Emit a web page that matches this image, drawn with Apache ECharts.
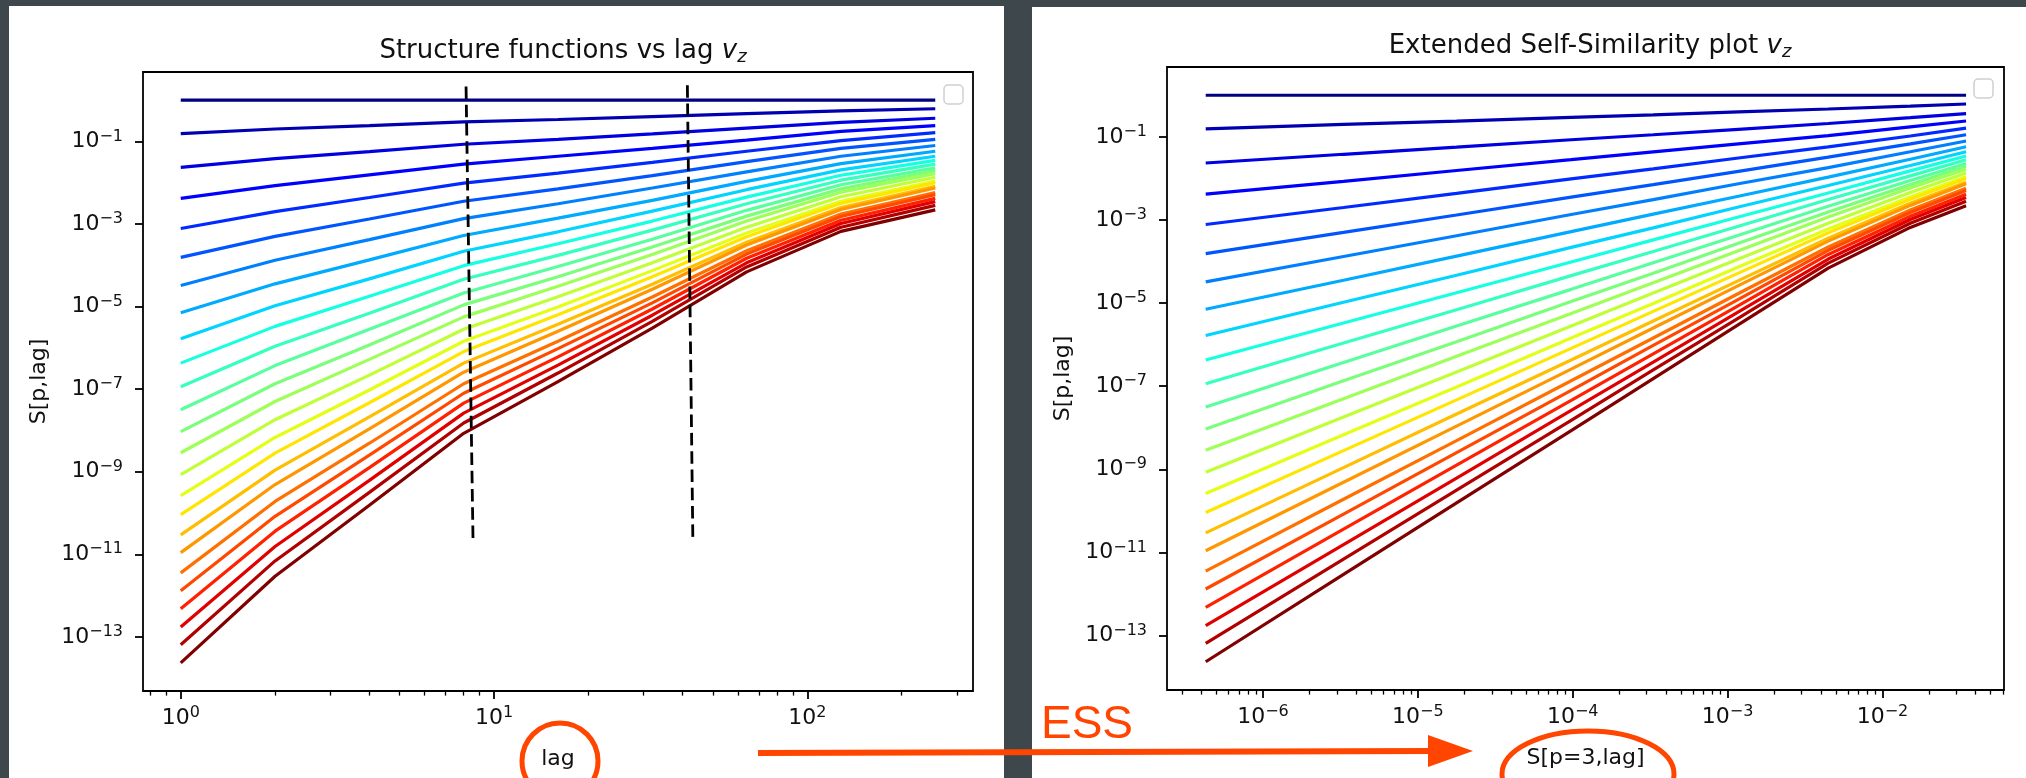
<!DOCTYPE html>
<html><head><meta charset="utf-8">
<script src="https://cdn.jsdelivr.net/npm/echarts@6/dist/echarts.min.js"></script>
<style>html,body{margin:0;padding:0;background:#3e474c;}#c{width:2026px;height:778px;}</style>
</head><body><div id="c"></div>
<script>
// lag values (x of the left plot)
const lags = [1, 2, 4, 8, 16, 32, 64, 128, 256];
// log10 of S[p, lag] for p = k/3, k = 0..24
const S_p00 = [0, 0, 0, 0, 0, 0, 0, 0, 0];
const S_p01 = [-0.81, -0.70, -0.62, -0.53, -0.47, -0.40, -0.33, -0.26, -0.21];
const S_p02 = [-1.63, -1.42, -1.25, -1.07, -0.95, -0.82, -0.68, -0.54, -0.44];
const S_p03 = [-2.38, -2.07, -1.81, -1.55, -1.36, -1.17, -0.97, -0.76, -0.62];
const S_p04 = [-3.11, -2.70, -2.36, -2.01, -1.77, -1.51, -1.24, -0.98, -0.79];
const S_p05 = [-3.81, -3.30, -2.88, -2.45, -2.15, -1.83, -1.49, -1.17, -0.95];
const S_p06 = [-4.49, -3.88, -3.38, -2.87, -2.51, -2.13, -1.74, -1.36, -1.10];
const S_p07 = [-5.15, -4.45, -3.87, -3.28, -2.86, -2.43, -1.97, -1.54, -1.24];
const S_p08 = [-5.78, -4.98, -4.33, -3.66, -3.19, -2.69, -2.17, -1.69, -1.36];
const S_p09 = [-6.37, -5.48, -4.75, -4.01, -3.48, -2.93, -2.35, -1.82, -1.46];
const S_p10 = [-6.94, -5.96, -5.16, -4.34, -3.76, -3.15, -2.51, -1.94, -1.55];
const S_p11 = [-7.50, -6.43, -5.55, -4.67, -4.03, -3.37, -2.67, -2.05, -1.64];
const S_p12 = [-8.03, -6.87, -5.93, -4.96, -4.28, -3.56, -2.81, -2.15, -1.71];
const S_p13 = [-8.54, -7.30, -6.28, -5.25, -4.51, -3.74, -2.93, -2.23, -1.78];
const S_p14 = [-9.07, -7.74, -6.66, -5.55, -4.76, -3.94, -3.08, -2.34, -1.87];
const S_p15 = [-9.58, -8.17, -7.02, -5.84, -5.01, -4.13, -3.22, -2.45, -1.96];
const S_p16 = [-10.04, -8.55, -7.33, -6.09, -5.20, -4.28, -3.31, -2.50, -2.00];
const S_p17 = [-10.53, -8.96, -7.67, -6.37, -5.43, -4.46, -3.44, -2.60, -2.09];
const S_p18 = [-10.96, -9.31, -7.96, -6.59, -5.60, -4.58, -3.51, -2.65, -2.13];
const S_p19 = [-11.45, -9.72, -8.31, -6.87, -5.84, -4.77, -3.65, -2.76, -2.24];
const S_p20 = [-11.88, -10.08, -8.60, -7.10, -6.02, -4.91, -3.73, -2.82, -2.29];
const S_p21 = [-12.32, -10.44, -8.90, -7.34, -6.22, -5.06, -3.83, -2.91, -2.38];
const S_p22 = [-12.76, -10.81, -9.21, -7.58, -6.42, -5.21, -3.94, -2.99, -2.46];
const S_p23 = [-13.19, -11.16, -9.50, -7.82, -6.61, -5.36, -4.04, -3.08, -2.55];
const S_p24 = [-13.63, -11.53, -9.81, -8.07, -6.82, -5.52, -4.16, -3.18, -2.66];
// ESS abscissa: S[p=3, lag]
const S_p3 = S_p09;
// dashed vertical markers: lag and log10 S of their ends
const dash1_lag = [8.14, 8.57], dash1_logS = [0.33, -10.72];
const dash2_lag = [41.4, 43.1], dash2_logS = [0.36, -10.62];
// tick exponents
const yTickExp = [-1, -3, -5, -7, -9, -11, -13];
const xTickExpLeft = [0, 1, 2];
const xTickExpRight = [-6, -5, -4, -3, -2];

const allS = [S_p00,S_p01,S_p02,S_p03,S_p04,S_p05,S_p06,S_p07,S_p08,S_p09,S_p10,S_p11,S_p12,
  S_p13,S_p14,S_p15,S_p16,S_p17,S_p18,S_p19,S_p20,S_p21,S_p22,S_p23,S_p24];

function seg(pts, t){
  for (let i = 1; i < pts.length; i++){
    if (t <= pts[i][0]){ const a = pts[i-1], b = pts[i]; return a[1] + (b[1]-a[1])*(t-a[0])/(b[0]-a[0]); }
  }
  return pts[pts.length-1][1];
}
function jet(t){
  const r = seg([[0,0],[0.35,0],[0.66,1],[0.89,1],[1,0.5]], t);
  const g = seg([[0,0],[0.125,0],[0.375,1],[0.64,1],[0.91,0],[1,0]], t);
  const b = seg([[0,0.5],[0.11,1],[0.34,1],[0.65,0],[1,0]], t);
  return 'rgb(' + Math.round(r*255) + ',' + Math.round(g*255) + ',' + Math.round(b*255) + ')';
}
function minorLogs(lo, hi){
  const out = [];
  for (let e = Math.floor(lo) - 1; e <= Math.ceil(hi); e++){
    for (let m = 2; m <= 9; m++){ const v = e + Math.log10(m); if (v >= lo && v <= hi) out.push(v); }
  }
  return out;
}
const FONT = 'DejaVu Sans';
const TXT = '#111';
const richExp = {
  b: {fontSize: 22, fontFamily: FONT, color: TXT, lineHeight: 26, verticalAlign: 'middle'},
  s: {fontSize: 16, fontFamily: FONT, color: TXT, lineHeight: 18, verticalAlign: 'top'}
};
function expLabel(v){ const e = Math.round(v); return '{b|10}{s|' + (e < 0 ? '\u2212' + (-e) : e) + '}'; }

const XL = [-0.1205, 2.5287], XR = [-6.62, -1.215], Y = [-14.31, 0.68];

function mainX(grid, ext, ticks, name){
  return {type: 'value', gridIndex: grid, min: ext[0], max: ext[1], position: 'bottom',
    name: name, nameLocation: 'middle', nameGap: 57,
    nameTextStyle: {fontSize: 22, fontFamily: FONT, color: TXT},
    axisLine: {show: false, onZero: false}, splitLine: {show: false},
    axisTick: {show: true, customValues: ticks, length: 8, lineStyle: {color: '#000', width: 1.8}},
    axisLabel: {show: true, customValues: ticks, formatter: expLabel, rich: richExp, margin: 14}};
}
function minorX(grid, ext){
  return {type: 'value', gridIndex: grid, min: ext[0], max: ext[1], position: 'bottom', offset: 0,
    axisLine: {show: false, onZero: false}, splitLine: {show: false}, axisLabel: {show: false},
    axisTick: {show: true, customValues: minorLogs(ext[0], ext[1]), length: 4.6, lineStyle: {color: '#000', width: 1.3}}};
}
function mainY(grid){
  return {type: 'value', gridIndex: grid, min: Y[0], max: Y[1], position: 'left',
    name: 'S[p,lag]', nameLocation: 'middle', nameGap: 93, nameRotate: 90,
    nameTextStyle: {fontSize: 22, fontFamily: FONT, color: TXT},
    axisLine: {show: false, onZero: false}, splitLine: {show: false},
    axisTick: {show: true, customValues: yTickExp, length: 8, lineStyle: {color: '#000', width: 1.8}},
    axisLabel: {show: true, customValues: yTickExp, formatter: expLabel, rich: richExp, margin: 20}};
}

const series = [];
allS.forEach((arr, i) => {
  const col = jet(i / (allS.length - 1));
  series.push({type: 'line', xAxisIndex: 0, yAxisIndex: 0, silent: true, symbol: 'none',
    data: lags.map((l, j) => [Math.log10(l), arr[j]]), lineStyle: {color: col, width: 3.2}, itemStyle: {color: col}});
  series.push({type: 'line', xAxisIndex: 2, yAxisIndex: 1, silent: true, symbol: 'none',
    data: arr.map((v, j) => [S_p3[j], v]), lineStyle: {color: col, width: 3.2}, itemStyle: {color: col}});
});
[[dash1_lag, dash1_logS], [dash2_lag, dash2_logS]].forEach(d => {
  series.push({type: 'line', xAxisIndex: 0, yAxisIndex: 0, silent: true, symbol: 'none', z: 5,
    data: d[0].map((l, j) => [Math.log10(l), d[1][j]]),
    lineStyle: {color: '#000', width: 2.8, type: [12.5, 5.8]}});
});

const ORANGE = '#ff4500';
const titleRich = {
  iv: {fontSize: 26, fontFamily: FONT, fontStyle: 'italic', color: TXT, lineHeight: 30, verticalAlign: 'middle'},
  sub: {fontSize: 18, fontFamily: FONT, fontStyle: 'italic', color: TXT, lineHeight: 20, verticalAlign: 'bottom'}
};
const option = {
  backgroundColor: '#3e474c',
  animation: false,
  title: [
    {text: 'Structure functions vs lag {iv|v}{sub|z}', left: 558, top: 31, textAlign: 'center',
     textStyle: {fontSize: 26, fontFamily: FONT, color: TXT, fontWeight: 'normal', lineHeight: 30, rich: titleRich}},
    {text: 'Extended Self-Similarity plot {iv|v}{sub|z}', left: 1585, top: 26, textAlign: 'center',
     textStyle: {fontSize: 26, fontFamily: FONT, color: TXT, fontWeight: 'normal', lineHeight: 30, rich: titleRich}}
  ],
  grid: [
    {left: 143, top: 72, width: 830, height: 619, show: true, borderColor: '#000', borderWidth: 1.8, backgroundColor: 'transparent', outerBoundsMode: 'none'},
    {left: 1167, top: 67, width: 837, height: 623, show: true, borderColor: '#000', borderWidth: 1.8, backgroundColor: 'transparent', outerBoundsMode: 'none'}
  ],
  xAxis: [mainX(0, XL, xTickExpLeft, 'lag'), minorX(0, XL), mainX(1, XR, xTickExpRight, 'S[p=3,lag]'), minorX(1, XR)],
  yAxis: [mainY(0), mainY(1)],
  series: series,
  graphic: [
    {type: 'rect', z: -100, shape: {x: 9, y: 6, width: 995, height: 772}, style: {fill: '#fff'}},
    {type: 'rect', z: -100, shape: {x: 1032, y: 7, width: 994, height: 771}, style: {fill: '#fff'}},
    {type: 'rect', z: 50, shape: {x: 944, y: 85, width: 19, height: 19, r: 4}, style: {fill: 'rgba(255,255,255,0.8)', stroke: '#cfcfcf', lineWidth: 1.5}},
    {type: 'rect', z: 50, shape: {x: 1974, y: 79, width: 19, height: 19, r: 4}, style: {fill: 'rgba(255,255,255,0.8)', stroke: '#cfcfcf', lineWidth: 1.5}},
    {type: 'ellipse', z: 100, shape: {cx: 560, cy: 761, rx: 38, ry: 38}, style: {fill: 'none', stroke: ORANGE, lineWidth: 5}},
    {type: 'ellipse', z: 100, shape: {cx: 1588, cy: 774, rx: 86, ry: 43}, style: {fill: 'none', stroke: ORANGE, lineWidth: 5}},
    {type: 'line', z: 100, shape: {x1: 758, y1: 753, x2: 1432, y2: 751}, style: {stroke: ORANGE, lineWidth: 6}},
    {type: 'polygon', z: 100, shape: {points: [[1428, 735], [1473, 751], [1428, 767]]}, style: {fill: ORANGE}},
    {type: 'text', z: 100, x: 1041, y: 702, style: {text: 'ESS', font: '46px "Liberation Sans", Arial, sans-serif', fill: ORANGE, verticalAlign: 'top'}}
  ]
};
const chart = echarts.init(document.getElementById('c'), null, {renderer: 'canvas'});
chart.setOption(option);
</script></body></html>
